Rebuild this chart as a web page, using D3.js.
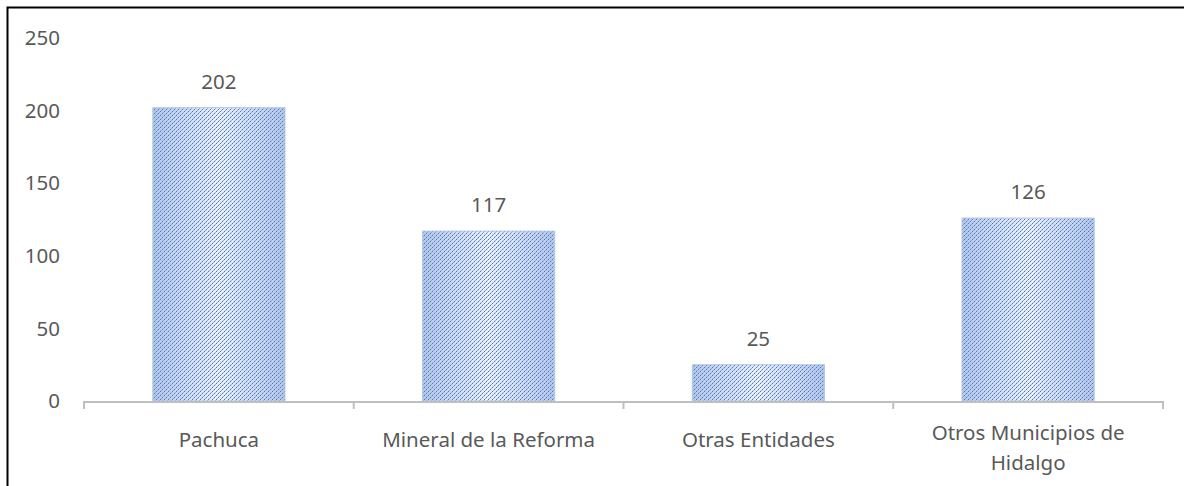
<!DOCTYPE html>
<html>
<head>
<meta charset="utf-8">
<script src="https://cdn.jsdelivr.net/npm/d3@7"></script>
<style>
  body { margin: 0; background: #fff; overflow: hidden; }
  svg { display: block; }
  text { font-family: "Noto Sans", "Open Sans", sans-serif; fill: #595959; }
</style>
</head>
<body>
<svg id="chart" width="1184" height="486"></svg>
<script>
"use strict";

var categories = [["Pachuca"], ["Mineral de la Reforma"], ["Otras Entidades"], ["Otros Municipios de", "Hidalgo"]];
var values = [202, 117, 25, 126];
var yTicks = [0, 50, 100, 150, 200, 250];

var svg = d3.select("#chart");
var defs = svg.append("defs");

var grad = defs.append("linearGradient")
  .attr("id", "barGrad")
  .attr("x1", "0").attr("x2", "1").attr("y1", "0").attr("y2", "0");
grad.append("stop").attr("offset", "0").attr("stop-color", "#b4c7e7");
grad.append("stop").attr("offset", "0.5").attr("stop-color", "#eaf0fa");
grad.append("stop").attr("offset", "1").attr("stop-color", "#b4c7e7");

// dotted upward diagonal hatch
var pat = defs.append("pattern")
  .attr("id", "stripes")
  .attr("patternUnits", "userSpaceOnUse")
  .attr("width", 4).attr("height", 4);
var dots = [[0, 3, "#4a77c7"], [2, 1, "#4a77c7"], [1, 2, "#8aa7dc"], [3, 0, "#8aa7dc"]];
pat.selectAll("rect")
  .data(dots)
  .join("rect")
  .attr("x", function(d) { return d[0]; })
  .attr("y", function(d) { return d[1]; })
  .attr("width", 1).attr("height", 1)
  .attr("fill", function(d) { return d[2]; })
  .attr("shape-rendering", "crispEdges");

var margin = { l: 84, r: 21, t: 38, b: 85 };
var width = 1184, height = 486;

var x = d3.scaleBand()
  .domain(d3.range(categories.length))
  .range([margin.l, width - margin.r])
  .paddingInner(0.51)
  .paddingOuter(0.255);

var y = d3.scaleLinear()
  .domain([0, 250])
  .range([height - margin.b, margin.t]);

// outer frame (only top and left fall inside the picture)
svg.append("path")
  .attr("d", "M7.5," + height + "V7.5H" + width)
  .attr("fill", "none")
  .attr("stroke", "#000")
  .attr("stroke-width", 2);

// y labels
svg.append("g").selectAll("text")
  .data(yTicks)
  .join("text")
  .attr("x", 60)
  .attr("y", function(d) { return y(d); })
  .attr("dy", "0.35em")
  .attr("text-anchor", "end")
  .style("font-size", "20.5px")
  .text(function(d) { return d; });

// bars
var bars = svg.append("g").selectAll("g")
  .data(values)
  .join("g");
bars.append("rect")
  .attr("x", function(d, i) { return x(i); })
  .attr("y", function(d) { return y(d); })
  .attr("width", x.bandwidth())
  .attr("height", function(d) { return y(0) - y(d); })
  .attr("fill", "url(#barGrad)");
bars.append("rect")
  .attr("x", function(d, i) { return x(i); })
  .attr("y", function(d) { return y(d); })
  .attr("width", x.bandwidth())
  .attr("height", function(d) { return y(0) - y(d); })
  .attr("fill", "url(#stripes)")
  .attr("stroke", "#b4c7e7")
  .attr("stroke-width", 1);

// data labels
svg.append("g").selectAll("text")
  .data(values)
  .join("text")
  .attr("x", function(d, i) { return x(i) + x.bandwidth() / 2; })
  .attr("y", function(d) { return y(d) - 19; })
  .attr("text-anchor", "middle")
  .style("font-size", "20.5px")
  .text(function(d) { return d; });

// x axis
var x0 = margin.l, x1 = width - margin.r;
svg.append("line")
  .attr("x1", x0).attr("x2", x1)
  .attr("y1", y(0) + 1).attr("y2", y(0) + 1)
  .attr("stroke", "#bfbfbf").attr("stroke-width", 2);
svg.append("g").selectAll("line")
  .data(d3.range(categories.length + 1))
  .join("line")
  .attr("x1", function(i) { return x0 + i * (x1 - x0) / categories.length; })
  .attr("x2", function(i) { return x0 + i * (x1 - x0) / categories.length; })
  .attr("y1", y(0)).attr("y2", y(0) + 8)
  .attr("stroke", "#bfbfbf").attr("stroke-width", 2);

// category labels
var catText = svg.append("g").selectAll("text")
  .data(categories)
  .join("text")
  .attr("text-anchor", "middle")
  .attr("x", function(d, i) { return x(i) + x.bandwidth() / 2; })
  .attr("y", function(d) { return d.length > 1 ? 433 : 440; })
  .style("font-size", "20.5px");
catText.selectAll("tspan")
  .data(function(d) { return d; })
  .join("tspan")
  .attr("x", function() { return d3.select(this.parentNode).attr("x"); })
  .attr("dy", function(d, j) { return j === 0 ? "0.35em" : "30px"; })
  .text(function(d) { return d; });
</script>
</body>
</html>
